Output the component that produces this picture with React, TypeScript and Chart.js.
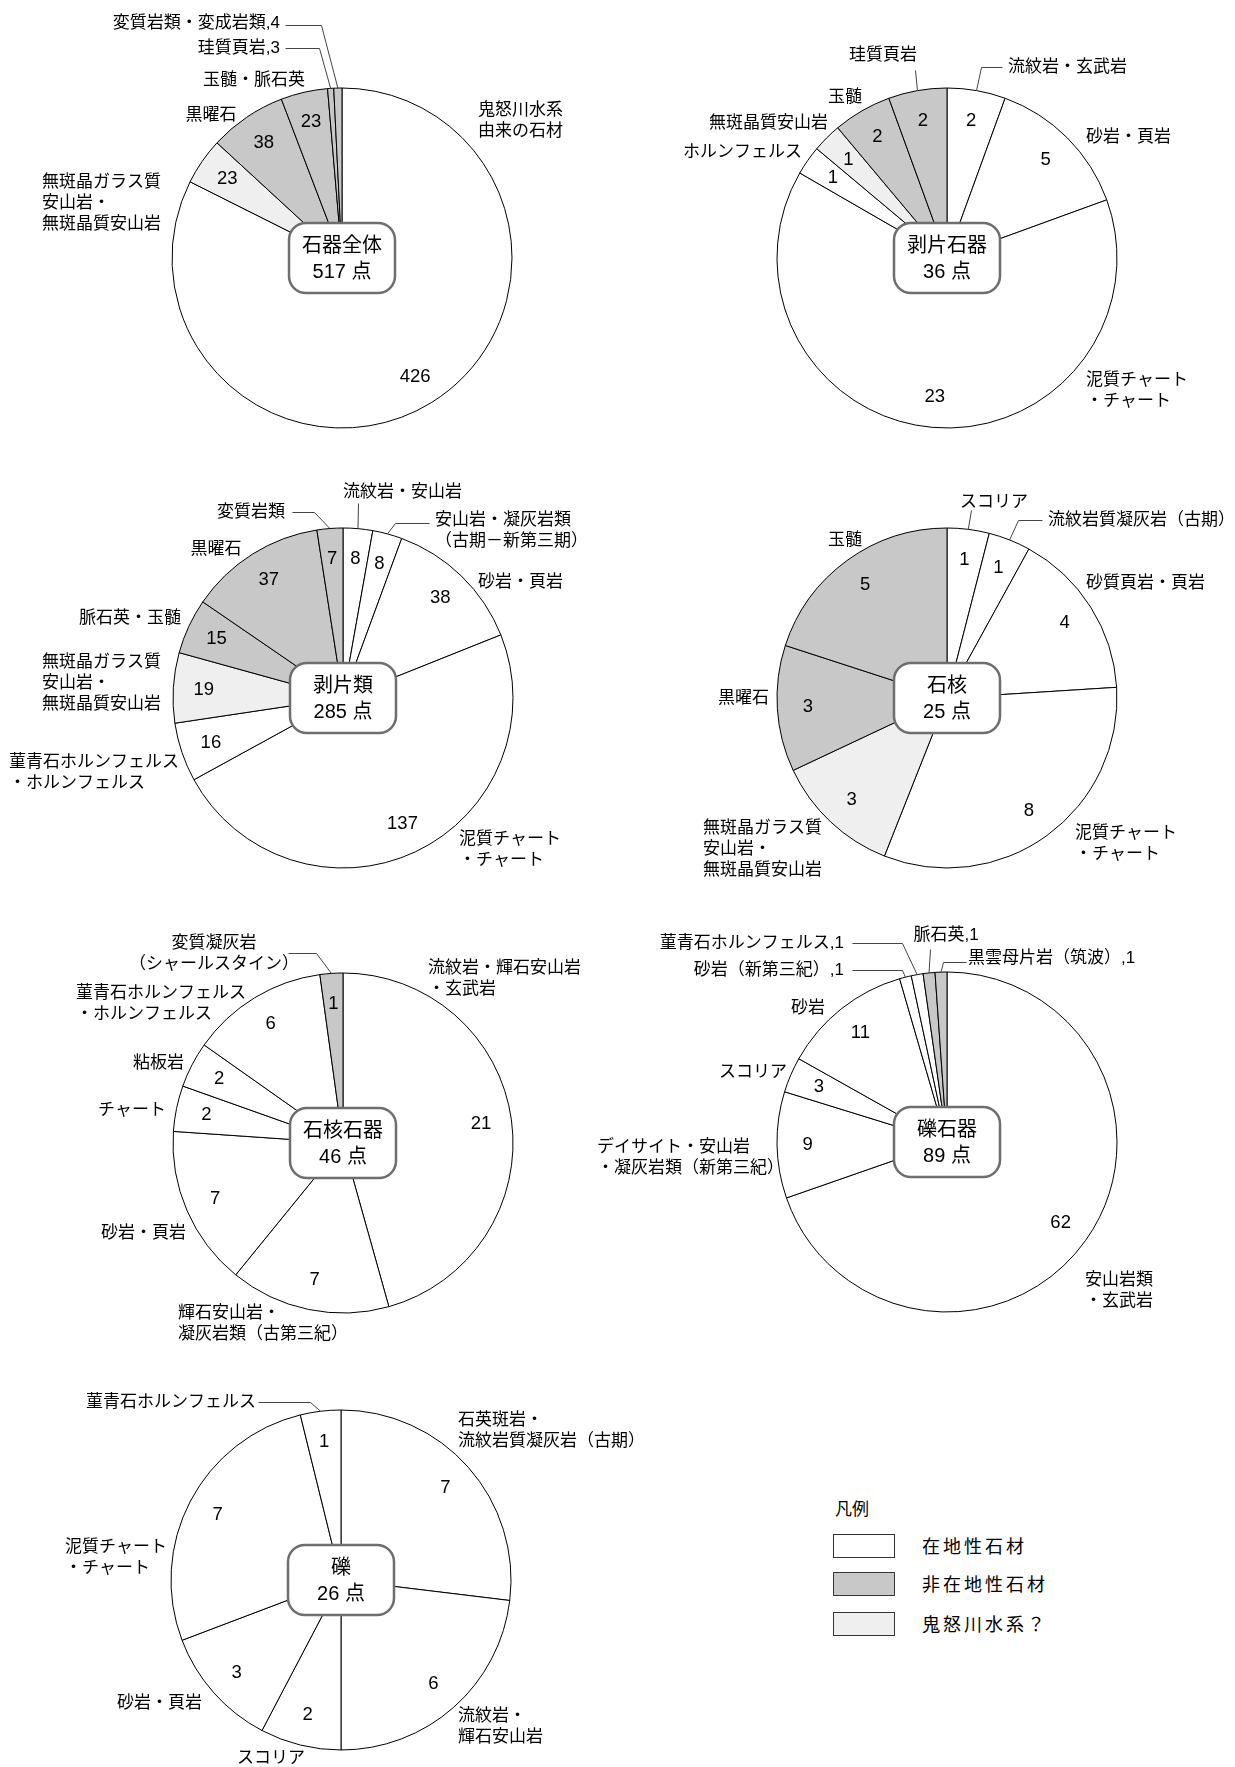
import React, { useEffect, useRef } from "react";
import { Chart, registerables } from "chart.js";

Chart.register(...registerables);

// ---------- data ----------
const KIND_COLORS: Record<string, string> = {
  local: "#ffffff",
  nonlocal: "#c8c8c8",
  kinu: "#efefef",
};

const legendLabels = ["在地性石材", "非在地性石材", "鬼怒川水系？"];
const legendKinds = ["local", "nonlocal", "kinu"];

const pie1Title = "石器全体";
const pie1Total = "517 点";
const pie1Categories = ["鬼怒川水系\n由来の石材", "無斑晶ガラス質\n安山岩・\n無斑晶質安山岩", "黒曜石", "玉髄・脈石英", "珪質頁岩", "変質岩類・変成岩類"];
const pie1Values = [426, 23, 38, 23, 3, 4];
const pie1Kinds = ["local", "kinu", "nonlocal", "nonlocal", "nonlocal", "nonlocal"];
const pie1Inline = [false, false, false, false, true, true];

const pie2Title = "剥片石器";
const pie2Total = "36 点";
const pie2Categories = ["流紋岩・玄武岩", "砂岩・頁岩", "泥質チャート\n・チャート", "ホルンフェルス", "無斑晶質安山岩", "玉髄", "珪質頁岩"];
const pie2Values = [2, 5, 23, 1, 1, 2, 2];
const pie2Kinds = ["local", "local", "local", "local", "kinu", "nonlocal", "nonlocal"];
const pie2Inline = [false, false, false, false, false, false, false];

const pie3Title = "剥片類";
const pie3Total = "285 点";
const pie3Categories = ["流紋岩・安山岩", "安山岩・凝灰岩類\n（古期－新第三期）", "砂岩・頁岩", "泥質チャート\n・チャート", "菫青石ホルンフェルス\n・ホルンフェルス", "無斑晶ガラス質\n安山岩・\n無斑晶質安山岩", "脈石英・玉髄", "黒曜石", "変質岩類"];
const pie3Values = [8, 8, 38, 137, 16, 19, 15, 37, 7];
const pie3Kinds = ["local", "local", "local", "local", "local", "kinu", "nonlocal", "nonlocal", "nonlocal"];
const pie3Inline = [false, false, false, false, false, false, false, false, false];

const pie4Title = "石核";
const pie4Total = "25 点";
const pie4Categories = ["スコリア", "流紋岩質凝灰岩（古期）", "砂質頁岩・頁岩", "泥質チャート\n・チャート", "無斑晶ガラス質\n安山岩・\n無斑晶質安山岩", "黒曜石", "玉髄"];
const pie4Values = [1, 1, 4, 8, 3, 3, 5];
const pie4Kinds = ["local", "local", "local", "local", "kinu", "nonlocal", "nonlocal"];
const pie4Inline = [false, false, false, false, false, false, false];

const pie5Title = "石核石器";
const pie5Total = "46 点";
const pie5Categories = ["流紋岩・輝石安山岩\n・玄武岩", "輝石安山岩・\n凝灰岩類（古第三紀）", "砂岩・頁岩", "チャート", "粘板岩", "菫青石ホルンフェルス\n・ホルンフェルス", "変質凝灰岩\n（シャールスタイン）"];
const pie5Values = [21, 7, 7, 2, 2, 6, 1];
const pie5Kinds = ["local", "local", "local", "local", "local", "local", "nonlocal"];
const pie5Inline = [false, false, false, false, false, false, false];

const pie6Title = "礫石器";
const pie6Total = "89 点";
const pie6Categories = ["安山岩類\n・玄武岩", "デイサイト・安山岩\n・凝灰岩類（新第三紀）", "スコリア", "砂岩", "砂岩（新第三紀）", "菫青石ホルンフェルス", "脈石英", "黒雲母片岩（筑波）"];
const pie6Values = [62, 9, 3, 11, 1, 1, 1, 1];
const pie6Kinds = ["local", "local", "local", "local", "local", "local", "nonlocal", "nonlocal"];
const pie6Inline = [false, false, false, false, true, true, true, true];

const pie7Title = "礫";
const pie7Total = "26 点";
const pie7Categories = ["石英斑岩・\n流紋岩質凝灰岩（古期）", "流紋岩・\n輝石安山岩", "スコリア", "砂岩・頁岩", "泥質チャート\n・チャート", "菫青石ホルンフェルス"];
const pie7Values = [7, 6, 2, 3, 7, 1];
const pie7Kinds = ["local", "local", "local", "local", "local", "local"];
const pie7Inline = [false, false, false, false, false, false];

// ---------- layout (label placement relative to pie centre) ----------
type Lay = { dx: number; dy: number; align: CanvasTextAlign; leader?: [number, number][] };

const pie1Layout: Lay[] = [
  { dx: 136, dy: -148, align: "left" },
  { dx: -300, dy: -76, align: "left" },
  { dx: -131, dy: -143, align: "center" },
  { dx: -88, dy: -178, align: "center" },
  { dx: -62, dy: -210, align: "right", leader: [[-57, -210], [-23, -210]] },
  { dx: -62, dy: -235, align: "right", leader: [[-57, -233], [-21, -233]] },
];
const pie2Layout: Lay[] = [
  { dx: 61, dy: -191, align: "left", leader: [[55, -191], [34, -191]] },
  { dx: 139, dy: -121, align: "left" },
  { dx: 139, dy: 122, align: "left" },
  { dx: -145, dy: -106, align: "right" },
  { dx: -119, dy: -135, align: "right" },
  { dx: -102, dy: -161, align: "center" },
  { dx: -64, dy: -203, align: "center", leader: [[-32, -188]] },
];
const pie3Layout: Lay[] = [
  { dx: 0, dy: -206, align: "left", leader: [[15, -195]] },
  { dx: 92, dy: -178, align: "left", leader: [[86, -175], [52, -175]] },
  { dx: 135, dy: -116, align: "left" },
  { dx: 116, dy: 141, align: "left" },
  { dx: -334, dy: 64, align: "left" },
  { dx: -301, dy: -36, align: "left" },
  { dx: -162, dy: -80, align: "right" },
  { dx: -127, dy: -149, align: "center" },
  { dx: -58, dy: -186, align: "right", leader: [[-51, -186], [-29, -186]] },
];
const pie4Layout: Lay[] = [
  { dx: 47, dy: -196, align: "center", leader: [[24, -188]] },
  { dx: 101, dy: -178, align: "left", leader: [[95, -178], [71, -178]] },
  { dx: 139, dy: -115, align: "left" },
  { dx: 128, dy: 135, align: "left" },
  { dx: -244, dy: 130, align: "left" },
  { dx: -178, dy: 0, align: "right" },
  { dx: -102, dy: -158, align: "center" },
];
const pie5Layout: Lay[] = [
  { dx: 85, dy: -175, align: "left" },
  { dx: -165, dy: 170, align: "left" },
  { dx: -157, dy: 90, align: "right" },
  { dx: -177, dy: -33, align: "right" },
  { dx: -159, dy: -80, align: "right" },
  { dx: -267, dy: -150, align: "left" },
  { dx: -129, dy: -200, align: "center", leader: [[-55, -190], [-27, -190]] },
];
const pie6Layout: Lay[] = [
  { dx: 138, dy: 138, align: "left" },
  { dx: -350, dy: 5, align: "left" },
  { dx: -160, dy: -70, align: "right" },
  { dx: -139, dy: -134, align: "center" },
  { dx: -103, dy: -172, align: "right", leader: [[-95, -172], [-45, -172]] },
  { dx: -103, dy: -199, align: "right", leader: [[-95, -199], [-45, -199]] },
  { dx: -1, dy: -207, align: "center", leader: [[-17, -193]] },
  { dx: 21, dy: -184, align: "left", leader: [[19, -180], [-4, -180]] },
];
const pie7Layout: Lay[] = [
  { dx: 117, dy: -160, align: "left" },
  { dx: 117, dy: 136, align: "left" },
  { dx: -70, dy: 178, align: "center" },
  { dx: -139, dy: 123, align: "right" },
  { dx: -276, dy: -33, align: "left" },
  { dx: -85, dy: -178, align: "right", leader: [[-83, -178], [-31, -178]] },
];

type PieCfg = {
  title: string; total: string; categories: string[]; values: number[]; kinds: string[]; inline: boolean[];
  layout: Lay[]; cx: number; cy: number; rect: [number, number, number, number];
};

const PIES: PieCfg[] = [
  { title: pie1Title, total: pie1Total, categories: pie1Categories, values: pie1Values, kinds: pie1Kinds, inline: pie1Inline, layout: pie1Layout, cx: 342, cy: 258, rect: [0, 0, 620, 460] },
  { title: pie2Title, total: pie2Total, categories: pie2Categories, values: pie2Values, kinds: pie2Kinds, inline: pie2Inline, layout: pie2Layout, cx: 947, cy: 258, rect: [590, 0, 645, 460] },
  { title: pie3Title, total: pie3Total, categories: pie3Categories, values: pie3Values, kinds: pie3Kinds, inline: pie3Inline, layout: pie3Layout, cx: 343, cy: 698, rect: [0, 445, 620, 460] },
  { title: pie4Title, total: pie4Total, categories: pie4Categories, values: pie4Values, kinds: pie4Kinds, inline: pie4Inline, layout: pie4Layout, cx: 947, cy: 698, rect: [590, 445, 645, 460] },
  { title: pie5Title, total: pie5Total, categories: pie5Categories, values: pie5Values, kinds: pie5Kinds, inline: pie5Inline, layout: pie5Layout, cx: 343, cy: 1143, rect: [0, 890, 620, 455] },
  { title: pie6Title, total: pie6Total, categories: pie6Categories, values: pie6Values, kinds: pie6Kinds, inline: pie6Inline, layout: pie6Layout, cx: 947, cy: 1142, rect: [590, 890, 645, 455] },
  { title: pie7Title, total: pie7Total, categories: pie7Categories, values: pie7Values, kinds: pie7Kinds, inline: pie7Inline, layout: pie7Layout, cx: 341, cy: 1580, rect: [0, 1335, 680, 432] },
];

const R = 170;
const LABEL_FONT = '17px "Liberation Sans", "Noto Sans CJK JP", sans-serif';
const NUM_FONT = '18.5px "Liberation Sans", "Noto Sans CJK JP", sans-serif';
const BOX_FONT = '20px "Liberation Sans", "Noto Sans CJK JP", sans-serif';
const LINE_H = 21;
const TEXT_COLOR = "#000000";

function makePlugin(cfg: PieCfg) {
  return {
    id: "pieLabels",
    afterDraw(chart: any) {
      const ctx: CanvasRenderingContext2D = chart.ctx;
      const meta = chart.getDatasetMeta(0);
      ctx.save();
      meta.data.forEach((el: any, i: number) => {
        const { x, y, startAngle, endAngle, outerRadius } = el.getProps(
          ["x", "y", "startAngle", "endAngle", "outerRadius"], true
        );
        const mid = (startAngle + endAngle) / 2;
        ctx.fillStyle = TEXT_COLOR;
        ctx.textBaseline = "middle";
        if (!cfg.inline[i]) {
          ctx.font = NUM_FONT;
          ctx.textAlign = "center";
          ctx.fillText(
            String(cfg.values[i]),
            x + Math.cos(mid) * outerRadius * 0.82,
            y + Math.sin(mid) * outerRadius * 0.82
          );
        }
        const lay = cfg.layout[i];
        const text = cfg.inline[i] ? `${cfg.categories[i]},${cfg.values[i]}` : cfg.categories[i];
        ctx.font = LABEL_FONT;
        ctx.textAlign = lay.align;
        text.split("\n").forEach((ln, k) => {
          ctx.fillText(ln, x + lay.dx, y + lay.dy + k * LINE_H);
        });
        if (lay.leader) {
          ctx.beginPath();
          ctx.strokeStyle = "#444";
          ctx.lineWidth = 1;
          lay.leader.forEach(([lx, ly], k) => {
            const px = Math.round(x + lx) + 0.5;
            const py = Math.round(y + ly) + 0.5;
            if (k === 0) ctx.moveTo(px, py);
            else ctx.lineTo(px, py);
          });
          ctx.lineTo(x + Math.cos(mid) * outerRadius, y + Math.sin(mid) * outerRadius);
          ctx.stroke();
        }
      });
      // centre box
      const c = meta.data[0];
      const bx = c.x;
      const by = c.y;
      const bw = 106;
      const bh = 70;
      ctx.beginPath();
      (ctx as any).roundRect(bx - bw / 2, by - bh / 2, bw, bh, 17);
      ctx.fillStyle = "#ffffff";
      ctx.fill();
      ctx.lineWidth = 2.5;
      ctx.strokeStyle = "#6e6e6e";
      ctx.stroke();
      ctx.fillStyle = TEXT_COLOR;
      ctx.font = BOX_FONT;
      ctx.textAlign = "center";
      ctx.textBaseline = "middle";
      ctx.fillText(cfg.title, bx, by - 12);
      ctx.fillText(cfg.total, bx, by + 14);
      ctx.restore();
    },
  };
}

function PieCanvas({ cfg }: { cfg: PieCfg }) {
  const ref = useRef<HTMLCanvasElement | null>(null);
  useEffect(() => {
    const canvas = ref.current;
    if (!canvas) return;
    const [L, T, W, H] = cfg.rect;
    const lx = cfg.cx - L;
    const ly = cfg.cy - T;
    const m = R + 4;
    const chart = new Chart(canvas, {
      type: "pie",
      data: {
        labels: cfg.categories,
        datasets: [
          {
            data: cfg.values,
            backgroundColor: cfg.kinds.map((k) => KIND_COLORS[k]),
            borderColor: "#000000",
            borderWidth: 1,
            radius: R,
          } as any,
        ],
      },
      options: {
        responsive: false,
        maintainAspectRatio: false,
        animation: false,
        devicePixelRatio: 1,
        events: [],
        layout: { padding: { left: lx - m, right: W - lx - m, top: ly - m, bottom: H - ly - m } },
        plugins: { legend: { display: false }, tooltip: { enabled: false }, title: { display: false } },
      },
      plugins: [makePlugin(cfg)],
    });
    return () => chart.destroy();
  }, [cfg]);
  const [L, T, W, H] = cfg.rect;
  return (
    <canvas
      ref={ref}
      width={W}
      height={H}
      style={{ position: "absolute", left: L, top: T, width: W, height: H }}
    />
  );
}

export default function App() {
  const legendTops = [1534, 1572, 1612];
  return (
    <div
      style={{
        position: "absolute",
        left: 0,
        top: 0,
        width: 1235,
        height: 1767,
        background: "#ffffff",
        overflow: "hidden",
        fontFamily: '"Liberation Sans", "Noto Sans CJK JP", sans-serif',
        color: TEXT_COLOR,
      }}
    >
      {PIES.map((p, i) => (
        <PieCanvas key={i} cfg={p} />
      ))}
      <div style={{ position: "absolute", left: 835, top: 1498, fontSize: 17, lineHeight: "24px" }}>凡例</div>
      {legendLabels.map((lab, i) => (
        <React.Fragment key={lab}>
          <div
            style={{
              position: "absolute",
              left: 833,
              top: legendTops[i],
              width: 60,
              height: 22,
              border: "1.5px solid #333",
              background: KIND_COLORS[legendKinds[i]],
            }}
          />
          <div
            style={{
              position: "absolute",
              left: 922,
              top: legendTops[i] + 1,
              fontSize: 18,
              lineHeight: "24px",
              letterSpacing: "3px",
            }}
          >
            {lab}
          </div>
        </React.Fragment>
      ))}
    </div>
  );
}
